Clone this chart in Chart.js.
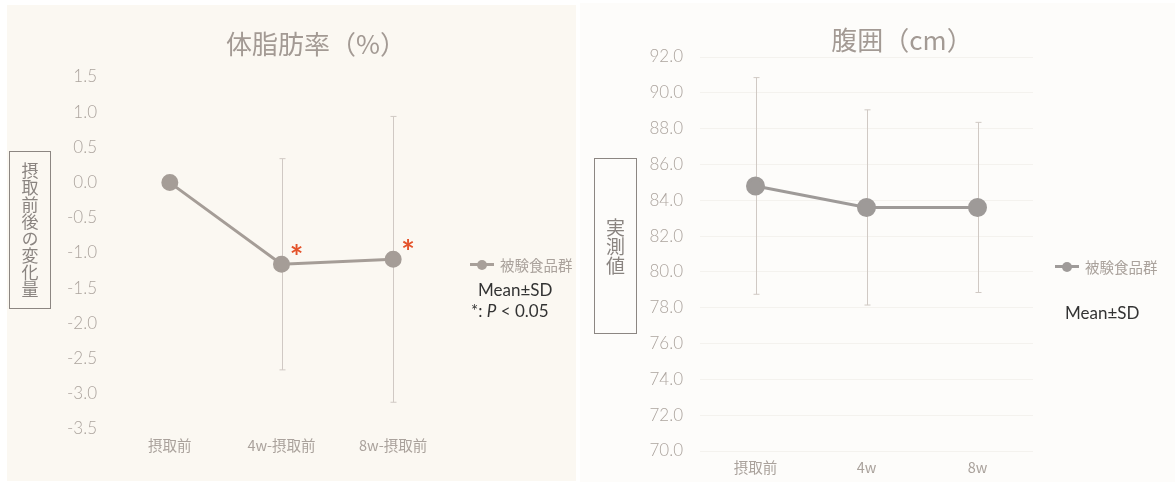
<!DOCTYPE html>
<html>
<head>
<meta charset="utf-8">
<script src="https://cdn.jsdelivr.net/npm/chart.js@4.4.0/dist/chart.umd.min.js"></script>
<style>
  body { margin: 0; background: #fff; font-family: Lato, "Noto Sans CJK JP", sans-serif; }
  #wrap { position: relative; width: 1175px; height: 482px; overflow: hidden; }
  .bg { position: absolute; }
  canvas { position: absolute; top: 0; }
  .title { position: absolute; font-size: 26px; color: #a39a94; white-space: nowrap; transform: translate(-50%, -50%); font-family: "Noto Sans CJK JP", sans-serif; }
  .ybox { position: absolute; border: 1.5px solid #8c8682; box-sizing: border-box; display: flex; align-items: center; justify-content: center; }
  .ybox span { writing-mode: vertical-rl; color: #8a8480; font-family: "Noto Sans CJK JP", sans-serif; letter-spacing: 0; }
  .legend { position: absolute; display: flex; align-items: center; color: #aaa29c; font-size: 14.5px; font-family: "Noto Sans CJK JP", sans-serif; white-space: nowrap; }
  .legend i { position: relative; display: inline-block; width: 24px; height: 3px; margin-right: 6px; }
  .legend i b { position: absolute; left: 7px; top: -3.5px; width: 10px; height: 10px; border-radius: 50%; }
  .note { position: absolute; color: #333; font-size: 17px; line-height: 21px; font-family: Lato, sans-serif; white-space: nowrap; }
</style>
</head>
<body>
<div id="wrap">
  <div class="bg" style="left:7px;top:5px;width:569px;height:476px;background:#fbf8f2;"></div>
  <div class="bg" style="left:580px;top:3px;width:595px;height:479px;background:#fdfcfa;"></div>

  <canvas id="fatChart" width="580" height="482" style="left:0;"></canvas>
  <canvas id="waistChart" width="595" height="482" style="left:580px;"></canvas>

  <div class="title" style="left:316px;top:42px;">体脂肪率（%）</div>
  <div class="title" style="left:902px;top:38px;">腹囲（cm）</div>

  <div class="ybox" style="left:9px;top:151px;width:42px;height:158px;"><span style="font-size:17px;">摂取前後の変化量</span></div>
  <div class="ybox" style="left:594px;top:158px;width:43px;height:176px;"><span style="font-size:19px;">実測値</span></div>

  <div class="legend" style="left:470px;top:254px;"><i style="background:#a8a09a;"><b style="background:#a8a09a;"></b></i>被験食品群</div>
  <div class="legend" style="left:1055px;top:256px;"><i style="background:#9f9b99;"><b style="background:#9f9b99;"></b></i>被験食品群</div>

  <div class="note" style="left:478px;top:279px;">Mean±SD</div>
  <div class="note" style="left:471px;top:300px;">*: <i>P</i> &lt; 0.05</div>
  <div class="note" style="left:1065px;top:302px;">Mean±SD</div>
</div>

<script>
// 体脂肪率 (摂取前後の変化量)
const fatLabels = ['摂取前', '4w-摂取前', '8w-摂取前'];
const fatMean = [0, -1.16, -1.09];
const fatSD = [0, 1.50, 2.03];
const fatSig = [false, true, true];
const fatTicks = { min: -3.5, max: 1.5, step: 0.5 };

// 腹囲 (実測値)
const waistLabels = ['摂取前', '4w', '8w'];
const waistMean = [84.8, 83.6, 83.6];
const waistSD = [6.05, 5.45, 4.75];
const waistSig = [false, false, false];
const waistTicks = { min: 70, max: 92, step: 2 };

const tickFont = { family: 'Lato, "Noto Sans CJK JP", sans-serif', size: 17, weight: '300' };
const catFont = { family: '"Noto Sans CJK JP", Lato, sans-serif', size: 14.5 };

// error bars under the line, asterisks above
const errorBars = {
  id: 'errorBars',
  beforeDatasetsDraw(chart, args, opts) {
    const { ctx, scales } = chart;
    const mean = opts.mean, sd = opts.sd;
    ctx.save();
    ctx.strokeStyle = '#d0c9c4';
    ctx.lineWidth = 1;
    mean.forEach((m, i) => {
      if (!sd[i]) return;
      const x = Math.round(scales.x.getPixelForValue(i)) + 0.5;
      const yTop = scales.y.getPixelForValue(m + sd[i]);
      const yBot = scales.y.getPixelForValue(m - sd[i]);
      ctx.beginPath();
      ctx.moveTo(x, yTop); ctx.lineTo(x, yBot);
      ctx.moveTo(x - 3, yTop); ctx.lineTo(x + 3, yTop);
      ctx.moveTo(x - 3, yBot); ctx.lineTo(x + 3, yBot);
      ctx.stroke();
    });
    ctx.restore();
  },
  afterDatasetsDraw(chart, args, opts) {
    const { ctx, scales } = chart;
    ctx.save();
    ctx.fillStyle = '#e4532b';
    ctx.font = 'bold 32px Lato, sans-serif';
    ctx.textAlign = 'center';
    ctx.textBaseline = 'alphabetic';
    opts.mean.forEach((m, i) => {
      if (!opts.sig[i]) return;
      const x = scales.x.getPixelForValue(i);
      const y = scales.y.getPixelForValue(m);
      ctx.fillText('*', x + 15, y + 5);
    });
    ctx.restore();
  }
};

function makeChart(id, labels, mean, sd, sig, ticks, color, radius, pad, yWidth, xHeight, grid) {
  return new Chart(document.getElementById(id), {
    type: 'line',
    data: {
      labels: labels,
      datasets: [{
        label: '被験食品群',
        data: mean,
        borderColor: color,
        backgroundColor: color,
        borderWidth: 3,
        pointRadius: radius,
        pointHoverRadius: radius,
        tension: 0
      }]
    },
    options: {
      responsive: false,
      animation: false,
      layout: { padding: pad },
      plugins: {
        legend: { display: false },
        tooltip: { enabled: false },
        errorBars: { mean: mean, sd: sd, sig: sig }
      },
      scales: {
        x: {
          offset: true,
          grid: { display: false, drawTicks: false },
          border: { display: false },
          ticks: { color: '#aaa29c', font: catFont, padding: 8 },
          afterFit(axis) { axis.height = xHeight; }
        },
        y: {
          min: ticks.min,
          max: ticks.max,
          grid: { display: grid, color: '#f4f2ee', drawTicks: false },
          border: { display: false },
          ticks: {
            stepSize: ticks.step,
            color: '#aca49e',
            font: tickFont,
            padding: 17,
            callback: v => v.toFixed(1)
          },
          afterFit(axis) { axis.width = yWidth; }
        }
      }
    },
    plugins: [errorBars]
  });
}

makeChart('fatChart', fatLabels, fatMean, fatSD, fatSig, fatTicks,
  '#a59d97', 7, { top: 77, right: 131, bottom: 0, left: 0 }, 114, 53, false);
makeChart('waistChart', waistLabels, waistMean, waistSD, waistSig, waistTicks,
  '#9e9a98', 8, { top: 57, right: 142, bottom: 0, left: 0 }, 120, 31, true);
</script>
</body>
</html>
